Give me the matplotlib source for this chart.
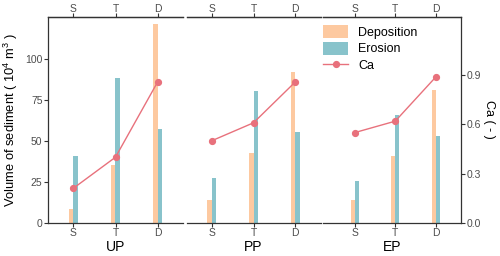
import matplotlib
matplotlib.use("Agg")
import matplotlib.pyplot as plt
import numpy as np
from matplotlib.patches import Patch
from matplotlib.lines import Line2D

plt.rcParams['font.family'] = ['Liberation Sans', 'DejaVu Sans']
plt.rcParams['mathtext.fontset'] = 'custom'
plt.rcParams['mathtext.rm'] = 'Liberation Sans'

#%% Data
stages = ['S', 'T', 'D']
panels = ['UP', 'PP', 'EP']
deposition = [[8.6, 35.4, 121.6],
              [13.9, 42.8, 92.0],
              [13.9, 40.9, 81.0]]
erosion = [[40.5, 88.6, 57.0],
           [27.5, 80.6, 55.6],
           [25.5, 66.0, 53.0]]
ca = [[0.21, 0.40, 0.86],
      [0.50, 0.61, 0.86],
      [0.55, 0.62, 0.89]]

#%% Style
c_dep = '#FDC9A0'
c_ero = '#88C3CB'
c_ca = '#E8717C'
c_spine = '#333333'
c_tick = '#4D4D4D'
ymax = 125.6
bw = 0.1
tl = 3.0

W, H = 500, 256
fig = plt.figure(figsize=(W / 100, H / 100), dpi=100)

# panel extents in pixels (left, right)
extents = [(48, 183), (186.5, 320.5), (323, 461)]
xlims = [(0.4, 3.6), (0.4, 3.6), (0.22, 3.62)]
top_px, bot_px = 17, 222.7

x = np.arange(1, len(stages) + 1)
for i, (lp, rp) in enumerate(extents):
    ax = fig.add_axes([lp / W, 1 - bot_px / H, (rp - lp) / W, (bot_px - top_px) / H])
    ax.bar(x - bw / 2, deposition[i], width=bw, color=c_dep, linewidth=0)
    ax.bar(x + bw / 2, erosion[i], width=bw, color=c_ero, linewidth=0)
    ax.plot(x, np.array(ca[i]) * 100, color=c_ca, lw=1.0, marker='o', ms=4.2, zorder=3)
    ax.set_xlim(*xlims[i])
    ax.set_ylim(0, ymax)
    ax.set_xticks(x)
    ax.set_xticklabels(stages)
    ax.tick_params(axis='x', length=tl, width=0.8, color=c_spine, labelcolor=c_tick,
                   labelsize=7.5, pad=1.0)
    # top axis with the same stage labels
    top = ax.secondary_xaxis('top')
    top.set_xticks(x)
    top.set_xticklabels(stages)
    top.tick_params(length=tl, width=0.8, color=c_spine, labelcolor=c_tick,
                    labelsize=7.5, pad=-1.2)
    top.spines['top'].set_color(c_spine)
    top.spines['top'].set_linewidth(0.9)
    ax.set_xlabel(panels[i], fontsize=10, color='black', labelpad=1.5)
    for s in ['top', 'bottom', 'left', 'right']:
        ax.spines[s].set_color(c_spine)
        ax.spines[s].set_linewidth(0.9)
    ax.spines['right'].set_visible(False)
    if i == 0:
        ax.set_yticks([0, 25, 50, 75, 100])
        ax.tick_params(axis='y', length=tl, width=0.8, color=c_spine,
                       labelcolor=c_tick, labelsize=7.5, pad=1.0)
        ax.set_ylabel('Volume of sediment ( 10$^4$ m$^3$ )', fontsize=9.3, labelpad=4)
    else:
        ax.spines['left'].set_visible(False)
        ax.set_yticks([])
    if i == 2:
        ax2 = ax.twinx()
        ax2.set_ylim(0, ymax / 100)
        ax2.set_yticks([0.0, 0.3, 0.6, 0.9])
        ax2.set_yticklabels(['0.0', '0.3', '0.6', '0.9'])
        ax2.tick_params(axis='y', length=tl, width=0.8, color=c_spine,
                        labelcolor=c_tick, labelsize=7.5, pad=1.0)
        for s in ['top', 'bottom', 'left']:
            ax2.spines[s].set_visible(False)
        ax2.spines['right'].set_color(c_spine)
        ax2.spines['right'].set_linewidth(0.9)
        ax2.set_ylabel('Ca ( - )', rotation=270, fontsize=9, labelpad=10)

handles = [Patch(facecolor=c_dep, edgecolor='none', label='Deposition'),
           Patch(facecolor=c_ero, edgecolor='none', label='Erosion'),
           Line2D([], [], color=c_ca, lw=1.0, marker='o', ms=4.2, label='Ca')]
fig.legend(handles=handles, loc='upper left', bbox_to_anchor=(323 / W, 1 - 25 / H),
           frameon=False, fontsize=9, borderpad=0, borderaxespad=0,
           handlelength=2.0, handleheight=1.2, handletextpad=0.8, labelspacing=0.25)

fig.savefig('out.png', dpi=100)
